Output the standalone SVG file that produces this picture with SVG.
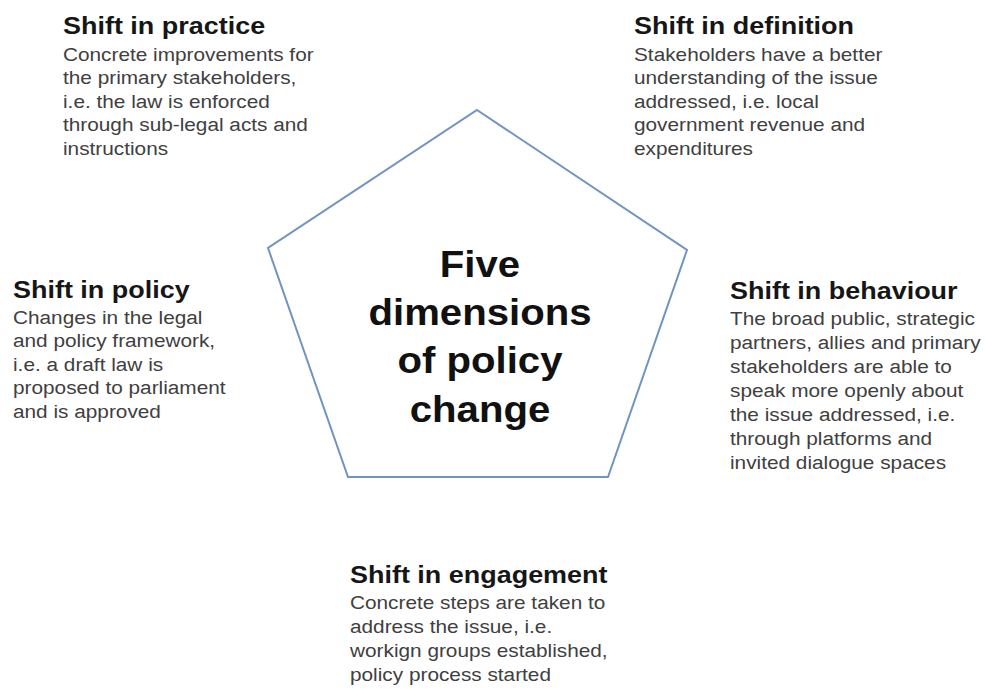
<svg xmlns="http://www.w3.org/2000/svg" width="985" height="691" viewBox="0 0 985 691">
  <style>
    .h { font-family: "Liberation Sans", Arial, sans-serif; font-weight: bold; font-size: 24.5px; fill: #161616; }
    .b { font-family: "Liberation Sans", Arial, sans-serif; font-size: 18.9px; fill: #404040; }
    .c { font-family: "Liberation Sans", Arial, sans-serif; font-weight: bold; font-size: 36.5px; fill: #111111; text-anchor: middle; }
    .pent { fill: #ffffff; stroke: #7094c2; stroke-width: 2; stroke-linejoin: miter; }
  </style>
  <rect x="0" y="0" width="985" height="691" fill="#ffffff"/>
  <g id="connectors"></g>
  <g id="center">
    <polygon class="pent" points="477,110 687,250 608,477 348,477 268,248"/>
    <g transform="translate(480,0) scale(1.1,1)">
      <text class="c" x="0" y="277">Five</text>
      <text class="c" x="0" y="325">dimensions</text>
      <text class="c" x="0" y="373">of policy</text>
      <text class="c" x="0" y="422">change</text>
    </g>
  </g>
  <g id="practice" transform="translate(63,0) scale(1.1,1)">
    <text class="h" x="0" y="34">Shift in practice</text>
    <text class="b" x="0" y="61">Concrete improvements for</text>
    <text class="b" x="0" y="84.5">the primary stakeholders,</text>
    <text class="b" x="0" y="108">i.e. the law is enforced</text>
    <text class="b" x="0" y="131.5">through sub-legal acts and</text>
    <text class="b" x="0" y="155">instructions</text>
  </g>
  <g id="definition" transform="translate(634,0) scale(1.1,1)">
    <text class="h" x="0" y="34">Shift in definition</text>
    <text class="b" x="0" y="61">Stakeholders have a better</text>
    <text class="b" x="0" y="84.5">understanding of the issue</text>
    <text class="b" x="0" y="108">addressed, i.e. local</text>
    <text class="b" x="0" y="131.5">government revenue and</text>
    <text class="b" x="0" y="155">expenditures</text>
  </g>
  <g id="policy" transform="translate(13,0) scale(1.1,1)">
    <text class="h" x="0" y="298">Shift in policy</text>
    <text class="b" x="0" y="324">Changes in the legal</text>
    <text class="b" x="0" y="347.5">and policy framework,</text>
    <text class="b" x="0" y="371">i.e. a draft law is</text>
    <text class="b" x="0" y="394.5">proposed to parliament</text>
    <text class="b" x="0" y="418">and is approved</text>
  </g>
  <g id="behaviour" transform="translate(730,0) scale(1.1,1)">
    <text class="h" x="0" y="299">Shift in behaviour</text>
    <text class="b" x="0" y="325">The broad public, strategic</text>
    <text class="b" x="0" y="349">partners, allies and primary</text>
    <text class="b" x="0" y="373">stakeholders are able to</text>
    <text class="b" x="0" y="397">speak more openly about</text>
    <text class="b" x="0" y="421">the issue addressed, i.e.</text>
    <text class="b" x="0" y="445">through platforms and</text>
    <text class="b" x="0" y="469">invited dialogue spaces</text>
  </g>
  <g id="engagement" transform="translate(350,0) scale(1.1,1)">
    <text class="h" x="0" y="583">Shift in engagement</text>
    <text class="b" x="0" y="609">Concrete steps are taken to</text>
    <text class="b" x="0" y="633">address the issue, i.e.</text>
    <text class="b" x="0" y="657">workign groups established,</text>
    <text class="b" x="0" y="681">policy process started</text>
  </g>
</svg>
